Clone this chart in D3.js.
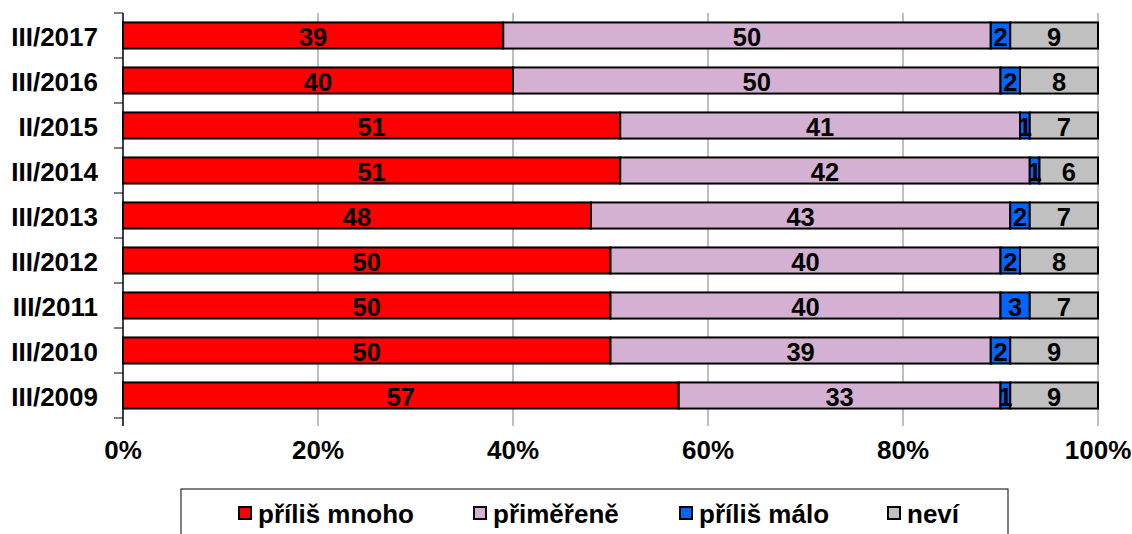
<!DOCTYPE html>
<html><head><meta charset="utf-8">
<script src="https://cdn.jsdelivr.net/npm/d3@7"></script>
<style>body{margin:0;background:#fff}text{font-family:"Liberation Sans",Arial,sans-serif;font-weight:bold}</style>
</head><body><svg id="c" width="1132" height="534"></svg>
<script>
const categories = ["III/2017","III/2016","II/2015","III/2014","III/2013","III/2012","III/2011","III/2010","III/2009"];
const seriesNames = ["příliš mnoho","přiměřeně","příliš málo","neví"];
const tooMuch   = [39,40,51,51,48,50,50,50,57];
const adequate  = [50,50,41,42,43,40,40,39,33];
const tooLittle = [2,2,1,1,2,2,3,2,1];
const dontKnow  = [9,8,7,6,7,8,7,9,9];
const tickLabels = ["0%","20%","40%","60%","80%","100%"];
const colors = ["#FF0000","#D4B0D2","#0066FF","#C0C0C0"];

const svg = d3.select("#c");
const L = 123, R = 1098, T = 13, B = 418;
const x = d3.scaleLinear().domain([0,100]).range([L,R]);
const y = d3.scaleBand().domain(categories).range([T,B]).paddingInner(0.42).paddingOuter(0.21);

// gridlines
svg.append("g").selectAll("line").data([20,40,60,80,100]).join("line")
  .attr("x1",d=>x(d)).attr("x2",d=>x(d)).attr("y1",T).attr("y2",B+8)
  .attr("stroke","#808080").attr("stroke-width",1);

// y axis
svg.append("line").attr("x1",L).attr("x2",L).attr("y1",T).attr("y2",B+8).attr("stroke","#000").attr("stroke-width",1.5);
const step = (B-T)/categories.length;
svg.append("g").selectAll("line").data(d3.range(categories.length+1)).join("line")
  .attr("x1",L-9).attr("x2",L).attr("y1",i=>T+i*step).attr("y2",i=>T+i*step)
  .attr("stroke","#000").attr("stroke-width",1);

const rows = categories.map((c,i)=>({cat:c, vals:[tooMuch[i],adequate[i],tooLittle[i],dontKnow[i]]}));
const stackData = rows.map(r=>{const o={cat:r.cat}; seriesNames.forEach((s,j)=>o[s]=r.vals[j]); return o;});
const stacked = d3.stack().keys(seriesNames)(stackData);

stacked.forEach((layer,j)=>{
  const g = svg.append("g");
  g.selectAll("rect").data(layer).join("rect")
    .attr("x",d=>x(d[0])).attr("width",d=>x(d[1])-x(d[0]))
    .attr("y",d=>y(d.data.cat)).attr("height",y.bandwidth())
    .attr("fill",colors[j]).attr("stroke","#000").attr("stroke-width",2);
});
stacked.forEach((layer,j)=>{
  svg.append("g").selectAll("text").data(layer).join("text")
    .attr("x",d=>(x(d[0])+x(d[1]))/2).attr("y",d=>y(d.data.cat)+y.bandwidth()/2+10)
    .attr("text-anchor","middle").attr("font-size",25.5).attr("fill","#000")
    .text(d=>d[1]-d[0]);
});

// y labels
svg.append("g").selectAll("text").data(categories).join("text")
  .attr("x",98).attr("y",d=>y(d)+y.bandwidth()/2+10).attr("text-anchor","end")
  .attr("font-size",26).text(d=>d);

// x labels
svg.append("g").selectAll("text").data(tickLabels).join("text")
  .attr("x",(d,i)=>x(i*20)).attr("y",459).attr("text-anchor","middle")
  .attr("font-size",26).text(d=>d);

// legend
svg.append("rect").attr("x",181).attr("y",489).attr("width",827).attr("height",60)
  .attr("fill","#fff").attr("stroke","#000").attr("stroke-width",1);
const legX = [239,474,680,888];
seriesNames.forEach((s,j)=>{
  svg.append("rect").attr("x",legX[j]).attr("y",507).attr("width",12).attr("height",12)
    .attr("fill",colors[j]).attr("stroke","#000").attr("stroke-width",2);
  svg.append("text").attr("x",legX[j]+19).attr("y",523).attr("font-size",26).text(s);
});
</script></body></html>
